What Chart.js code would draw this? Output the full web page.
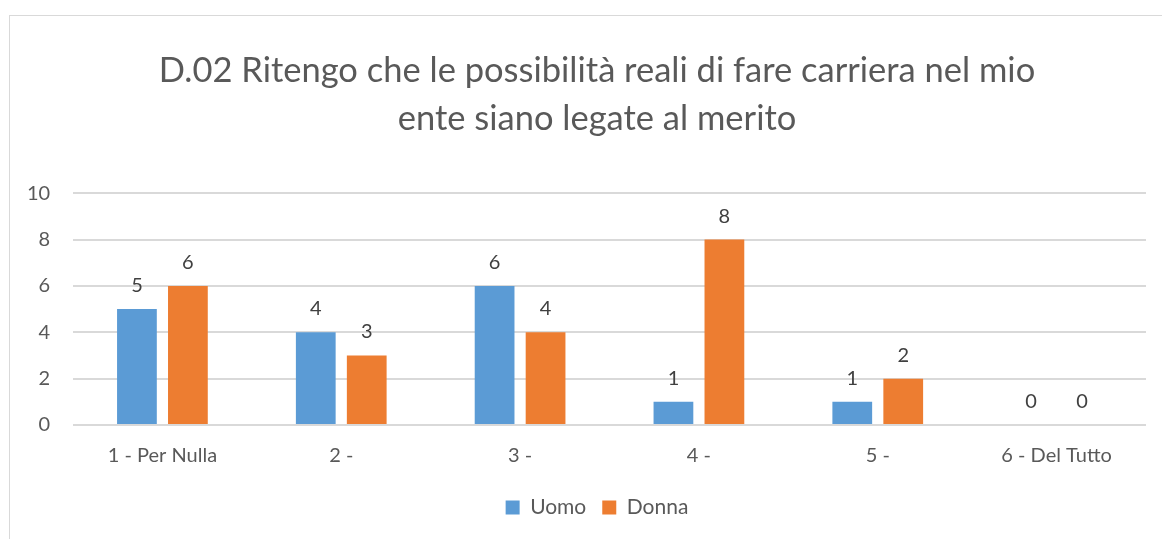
<!DOCTYPE html>
<html>
<head>
<meta charset="utf-8">
<script src="https://cdn.jsdelivr.net/npm/chart.js@4"></script>
<style>
  html, body { margin: 0; padding: 0; background: #fff; }
  #wrap { position: relative; width: 1162px; height: 539px; }
  #frame { position: absolute; left: 9px; top: 15px; width: 1200px; height: 600px; border: 1px solid #d9d9d9; }
  canvas { position: absolute; left: 0; top: 0; }
</style>
</head>
<body>
<div id="wrap">
  <div id="frame"></div>
  <canvas id="chart" width="1162" height="539"></canvas>
</div>
<script>
const categories = ['1 - Per Nulla', '2 -', '3 -', '4 -', '5 -', '6 - Del Tutto'];
const uomo = [5, 4, 6, 1, 1, 0];
const donna = [6, 3, 4, 8, 2, 0];
const titleLines = ['D.02 Ritengo che le possibilit\u00e0 reali di fare carriera nel mio', 'ente siano legate al merito'];

const FONT = 'Lato, "Open Sans", sans-serif';
const TEXT = '#595959';

// draws the value above each bar
const valueLabels = {
  id: 'valueLabels',
  afterDatasetsDraw(chart) {
    const ctx = chart.ctx;
    ctx.save();
    ctx.font = '20px ' + FONT;
    ctx.fillStyle = '#404040';
    ctx.textAlign = 'center';
    ctx.textBaseline = 'alphabetic';
    chart.data.datasets.forEach((ds, i) => {
      chart.getDatasetMeta(i).data.forEach((bar, j) => {
        ctx.fillText(ds.data[j], bar.x, bar.y - 17);
      });
    });
    ctx.restore();
  }
};

new Chart(document.getElementById('chart'), {
  type: 'bar',
  data: {
    labels: categories,
    datasets: [
      { label: 'Uomo', data: uomo, backgroundColor: '#5B9BD5', categoryPercentage: 0.57, barPercentage: 0.78 },
      { label: 'Donna', data: donna, backgroundColor: '#ED7D31', categoryPercentage: 0.57, barPercentage: 0.78 }
    ]
  },
  options: {
    responsive: false,
    animation: false,
    // left padding shifts title and legend to the same centre as the original
    layout: { padding: { left: 48, right: 16, top: 0, bottom: 11 } },
    plugins: {
      title: {
        display: true,
        text: titleLines,
        color: TEXT,
        font: { family: FONT, size: 34.5, weight: 'normal', lineHeight: 1.38 },
        padding: { top: 47, bottom: 51 }
      },
      legend: {
        position: 'bottom',
        labels: {
          color: TEXT,
          font: { family: FONT, size: 21 },
          boxWidth: 14,
          boxHeight: 14,
          padding: 16
        }
      },
      tooltip: { enabled: false }
    },
    scales: {
      x: {
        grid: { display: false, drawTicks: false },
        border: { display: false },
        ticks: { color: TEXT, font: { family: FONT, size: 20 }, padding: 19, maxRotation: 0 },
        afterFit(scale) { scale.height = 56; }
      },
      y: {
        min: 0,
        max: 10,
        // mirrored labels are not clipped to the narrow axis box; negative padding puts them back left of the plot
        ticks: { stepSize: 2, color: TEXT, font: { family: FONT, size: 20 }, mirror: true, crossAlign: 'far', padding: -46 },
        grid: { color: '#d9d9d9', lineWidth: 2, drawTicks: false },
        border: { display: false },
        afterFit(scale) { scale.width = 25; }
      }
    }
  },
  plugins: [valueLabels]
});
</script>
</body>
</html>
